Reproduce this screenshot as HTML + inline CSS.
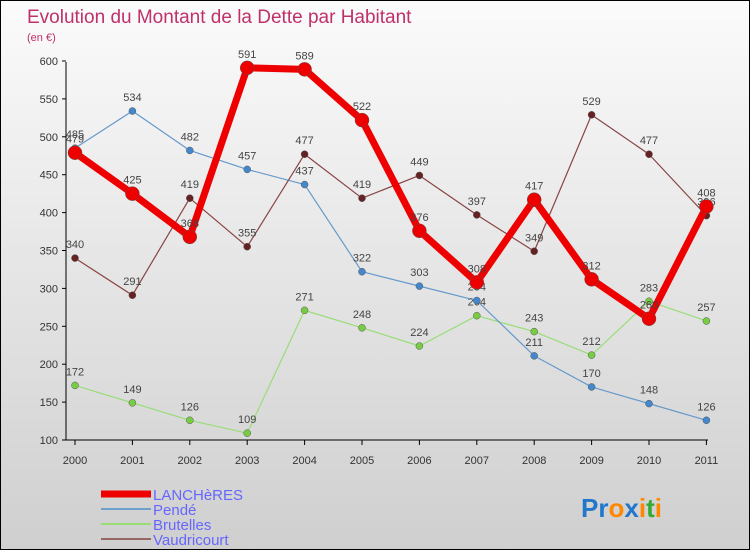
<!DOCTYPE html>
<html><head><meta charset="utf-8"><style>
body{margin:0}
#c{width:748px;height:548px;border:1px solid #000;background:linear-gradient(#fbfbfb,#cfcfcf);position:relative;overflow:hidden;font-family:"Liberation Sans",sans-serif}
</style></head><body>
<div id="c">
<svg id="s" width="748" height="548"></svg>
</div>
<script>
const years=["2000","2001","2002","2003","2004","2005","2006","2007","2008","2009","2010","2011"];
const yTicks=[100,150,200,250,300,350,400,450,500,550,600];
const lanch=[479,425,368,591,589,522,376,308,417,312,260,408];
const pende=[485,534,482,457,437,322,303,284,211,170,148,126];
const brut=[172,149,126,109,271,248,224,264,243,212,283,257];
const vaud=[340,291,419,355,477,419,449,397,349,529,477,396];
const NS="http://www.w3.org/2000/svg",s=document.getElementById('s');
const X=i=>74+i*57.4, Y=v=>439-(v-100)*0.758;
function el(t,a,txt){const e=document.createElementNS(NS,t);for(const k in a)e.setAttribute(k,a[k]);if(txt!==undefined)e.textContent=txt;s.appendChild(e);return e;}
let e;
e=el('text',{x:26,y:22,fill:'#c0306a','font-size':19},'Evolution du Montant de la Dette par Habitant');


e=el('text',{x:26,y:40,fill:'#c0306a','font-size':11},'(en €)');


e=el('line',{x1:65,y1:61,x2:65,y2:439,stroke:'#000'});


e=el('line',{x1:65,y1:439,x2:707,y2:439,stroke:'#000'});


yTicks.forEach(v=>{el('line',{x1:61,x2:65,y1:Y(v),y2:Y(v),stroke:'#000'});
e=el('text',{x:57,y:Y(v)+4,'text-anchor':'end','font-size':11,fill:'#333'},v);

});
years.forEach((y,i)=>{el('line',{x1:X(i),x2:X(i),y1:439,y2:444,stroke:'#000'});
e=el('text',{x:X(i),y:463,'text-anchor':'middle','font-size':11,fill:'#333'},y);

});
function series(d,col,w,r,name,dot){
 e=el('polyline',{points:d.map((v,i)=>X(i)+','+Y(v)).join(' '),fill:'none',stroke:col,'stroke-width':w,'stroke-linejoin':'round'});
 
 
 d.forEach((v,i)=>{e=el('circle',{cx:X(i),cy:Y(v),r:r,fill:dot,stroke:'#555','stroke-width':0.5});
 
 
 e=el('text',{x:X(i),y:Y(v)-10,'text-anchor':'middle','font-size':11,fill:'#444'},v);
 
 });
}
series(brut,'#99dd77',1.2,3.5,'brutelles','#77cc44');
series(pende,'#6699cc',1.2,3.5,'pende','#4488cc');
series(vaud,'#884444',1.2,3.5,'vaudricourt','#662222');
series(lanch,'#ee0000',7,7,'lancheres','#ee0000');
const leg=[['LANCHèRES','#ee0000',7],['Pendé','#6fa0cc',2],['Brutelles','#99dd77',2],['Vaudricourt','#996666',2]];
leg.forEach((l,i)=>{const y=493+i*15;
 e=el('line',{x1:100,x2:150,y1:y,y2:y,stroke:l[1],'stroke-width':l[2]});
 
 
 e=el('text',{x:152,y:y+6,'font-size':15,fill:'#6666ff'},l[0]);
 
 });
e=el('text',{x:580,y:516,'font-size':26,'font-weight':'bold'});


[['Pr','#2277cc'],['o','#ff8800'],['x','#2277cc'],['i','#ff8800'],['t','#33aa33'],['i','#ff8800']].forEach(p=>{const t=document.createElementNS(NS,'tspan');t.setAttribute('fill',p[1]);t.textContent=p[0];e.appendChild(t);});
</script>
</body></html>
